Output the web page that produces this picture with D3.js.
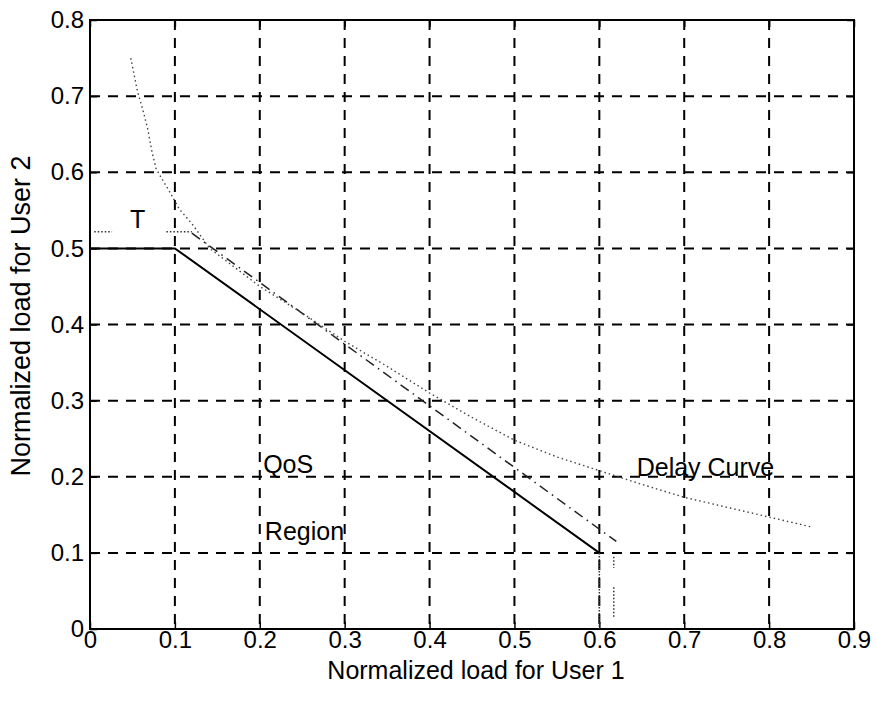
<!DOCTYPE html>
<html>
<head>
<meta charset="utf-8">
<script src="https://cdnjs.cloudflare.com/ajax/libs/d3/7.8.5/d3.min.js"></script>
<style>
  html, body { margin: 0; padding: 0; background: #fff; }
  svg { display: block; }
  text { font-family: "Liberation Sans", Arial, sans-serif; fill: #000; }
</style>
</head>
<body>
<svg id="chart" width="876" height="702"></svg>
<script>
// ---- data ----
const xTicks = [0, 0.1, 0.2, 0.3, 0.4, 0.5, 0.6, 0.7, 0.8, 0.9];
const yTicks = [0, 0.1, 0.2, 0.3, 0.4, 0.5, 0.6, 0.7, 0.8];
const xTickLabels = ["0", "0.1", "0.2", "0.3", "0.4", "0.5", "0.6", "0.7", "0.8", "0.9"];
const yTickLabels = ["0", "0.1", "0.2", "0.3", "0.4", "0.5", "0.6", "0.7", "0.8"];

// QoS region boundary (solid)
const qosBoundary = [[0, 0.5], [0.1, 0.5], [0.6, 0.1]];
const qosDrop = [[0.6, 0.1], [0.6, 0.0]];

// threshold curve T (dotted horizontal part + dash-dot diagonal)
const thresholdFlatA = [[0.005, 0.522], [0.026, 0.522]];
const thresholdFlatB = [[0.09, 0.522], [0.12, 0.522]];
const thresholdDiag = [[0.12, 0.52], [0.62, 0.115]];
const thresholdDropA = [[0.617, 0.095], [0.617, 0.08]];
const thresholdDropB = [[0.617, 0.055], [0.617, 0.016]];

// Delay curve (dotted)
const delayCurve = [
  [0.048, 0.75], [0.056, 0.706], [0.062, 0.683], [0.068, 0.657], [0.073, 0.627],
  [0.078, 0.604], [0.094, 0.574], [0.105, 0.552], [0.121, 0.531], [0.141, 0.50],
  [0.2, 0.45], [0.25, 0.415], [0.3, 0.378], [0.35, 0.345], [0.4, 0.31],
  [0.45, 0.278], [0.5, 0.248], [0.55, 0.226], [0.6, 0.208], [0.65, 0.19],
  [0.7, 0.173], [0.75, 0.16], [0.8, 0.147], [0.85, 0.134]
];

const annotations = [
  { text: "T", x: 0.047, y: 0.527 },
  { text: "QoS", x: 0.204, y: 0.205 },
  { text: "Region", x: 0.206, y: 0.117 },
  { text: "Delay Curve", x: 0.644, y: 0.201 }
];

const xLabel = "Normalized load for User 1";
const yLabel = "Normalized load for User 2";

// ---- drawing ----
const svg = d3.select("#chart");
const L = 90, R = 854, T = 20, B = 629;
const x = d3.scaleLinear().domain([0, 0.9]).range([L, R]);
const y = d3.scaleLinear().domain([0, 0.8]).range([B, T]);

// grid
const grid = svg.append("g");
grid.selectAll("line.vx").data(xTicks.slice(1, -1)).enter().append("line")
  .attr("x1", d => x(d)).attr("x2", d => x(d)).attr("y1", T).attr("y2", B)
  .attr("stroke", "#000").attr("stroke-width", 2).attr("stroke-dasharray", "10,8");
grid.selectAll("line.hy").data(yTicks.slice(1, -1)).enter().append("line")
  .attr("x1", L).attr("x2", R).attr("y1", d => y(d)).attr("y2", d => y(d))
  .attr("stroke", "#000").attr("stroke-width", 2).attr("stroke-dasharray", "10,8");

// axes
const xAxis = d3.axisBottom(x).tickValues(xTicks).tickFormat((d, i) => xTickLabels[i]).tickSizeInner(-7).tickSizeOuter(0).tickPadding(2);
const yAxis = d3.axisLeft(y).tickValues(yTicks).tickFormat((d, i) => yTickLabels[i]).tickSizeInner(-7).tickSizeOuter(0).tickPadding(6);
const gx = svg.append("g").attr("transform", `translate(0,${B})`).call(xAxis);
const gy = svg.append("g").attr("transform", `translate(${L},0)`).call(yAxis);
[gx, gy].forEach(g => {
  g.select(".domain").remove();
  g.selectAll(".tick line").attr("stroke", "#000").attr("stroke-width", 1.5);
  g.selectAll(".tick text").attr("font-family", "Liberation Sans, Arial, sans-serif").attr("font-size", 24).attr("fill", "#000");
});
// mirrored ticks top / right
const xTop = d3.axisTop(x).tickValues(xTicks).tickSizeInner(-7).tickSizeOuter(0).tickFormat("");
const yRight = d3.axisRight(y).tickValues(yTicks).tickSizeInner(-7).tickSizeOuter(0).tickFormat("");
const gxt = svg.append("g").attr("transform", `translate(0,${T})`).call(xTop);
const gyr = svg.append("g").attr("transform", `translate(${R},0)`).call(yRight);
[gxt, gyr].forEach(g => { g.select(".domain").remove(); g.selectAll(".tick line").attr("stroke", "#000").attr("stroke-width", 1.5); });

// frame
svg.append("rect").attr("x", L).attr("y", T).attr("width", R - L).attr("height", B - T)
  .attr("fill", "none").attr("stroke", "#000").attr("stroke-width", 2);

// curves
const line = d3.line().x(d => x(d[0])).y(d => y(d[1]));
const curves = svg.append("g").attr("fill", "none");
curves.append("path").datum(qosBoundary).attr("d", line).attr("stroke", "#000").attr("stroke-width", 2);
curves.append("path").datum(qosDrop).attr("d", line).attr("stroke", "#333").attr("stroke-width", 1.5).attr("stroke-dasharray", "1.5,1.5");
[thresholdFlatA, thresholdFlatB, thresholdDropA, thresholdDropB].forEach(seg => {
  curves.append("path").datum(seg).attr("d", line).attr("stroke", "#333").attr("stroke-width", 1.5).attr("stroke-dasharray", "1.5,2");
});
curves.append("path").datum(thresholdDiag).attr("d", line).attr("stroke", "#222").attr("stroke-width", 1.5).attr("stroke-dasharray", "10,5,1.5,5");
curves.append("path").datum(delayCurve).attr("d", line).attr("stroke", "#444").attr("stroke-width", 1.4).attr("stroke-dasharray", "1.5,3");

// annotations
svg.append("g").selectAll("text").data(annotations).enter().append("text")
  .attr("x", d => x(d.x)).attr("y", d => y(d.y))
  .attr("font-size", 25).text(d => d.text);

// axis labels
svg.append("text").attr("x", (L + R) / 2 + 4).attr("y", 679).attr("text-anchor", "middle")
  .attr("font-size", 25).text(xLabel);
svg.append("text").attr("transform", `translate(30,316) rotate(-90)`).attr("text-anchor", "middle")
  .attr("font-size", 27).text(yLabel);
</script>
</body>
</html>
